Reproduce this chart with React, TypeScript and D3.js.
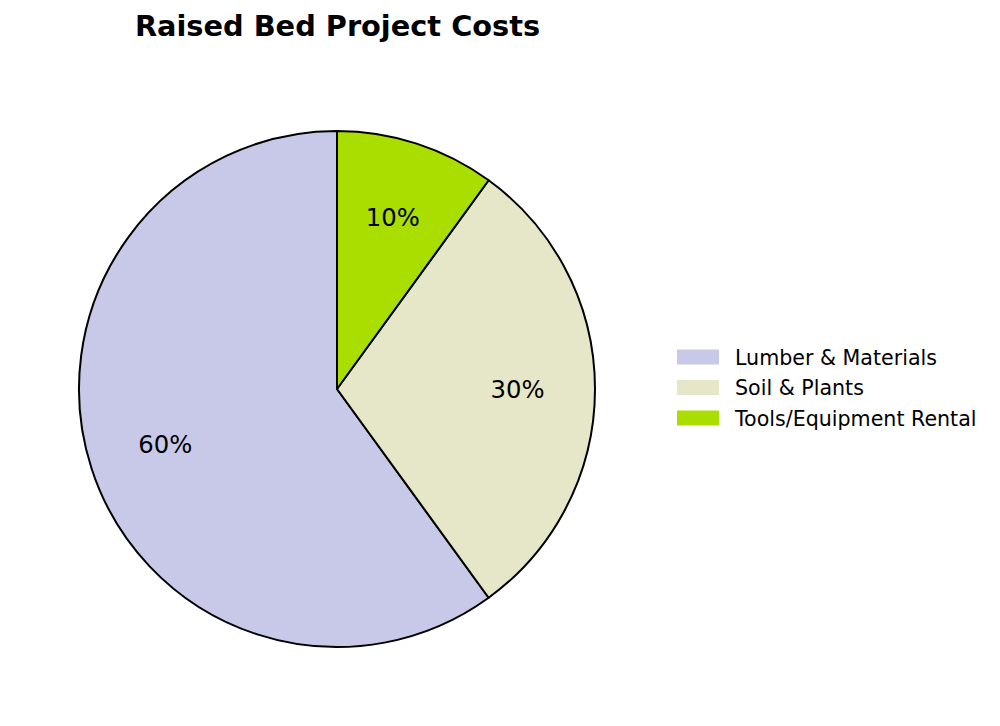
import { useEffect, useRef } from "react";
import * as d3 from "d3";

// Raised bed project cost split
const categories = ["Lumber & Materials", "Soil & Plants", "Tools/Equipment Rental"];
const shares = [60, 30, 10];
const sliceColors = ["#c8c8e8", "#e6e6c8", "#aade00"];

const W = 1000;
const H = 726;

export default function App() {
  const svgRef = useRef<SVGSVGElement>(null);

  useEffect(() => {
    if (!svgRef.current) return;
    const svg = d3.select(svgRef.current);
    svg.selectAll("*").remove();

    const cx = 337;
    const cy = 389;
    const radius = 258;

    const data = categories.map((name, i) => ({ name, value: shares[i], color: sliceColors[i] }));
    type Datum = (typeof data)[number];

    // matplotlib style: start at 12 o'clock, go counter-clockwise
    const pie = d3.pie<Datum>()
      .value(d => d.value)
      .sort(null)
      .startAngle(0)
      .endAngle(-2 * Math.PI);

    const arc = d3.arc<d3.PieArcDatum<Datum>>()
      .innerRadius(0)
      .outerRadius(radius);

    const labelArc = d3.arc<d3.PieArcDatum<Datum>>()
      .innerRadius(radius * 0.7)
      .outerRadius(radius * 0.7);

    const g = svg.append("g").attr("transform", `translate(${cx}, ${cy})`);
    const pieData = pie(data);

    g.selectAll("path")
      .data(pieData)
      .join("path")
      .attr("d", arc)
      .attr("fill", d => d.data.color)
      .attr("stroke", "#000")
      .attr("stroke-width", 2)
      .attr("stroke-linejoin", "round");

    const total = d3.sum(shares);
    g.selectAll("text.pct")
      .data(pieData)
      .join("text")
      .attr("class", "pct")
      .attr("transform", d => `translate(${labelArc.centroid(d)})`)
      .attr("text-anchor", "middle")
      .attr("dominant-baseline", "central")
      .style("font-size", "24.3px")
      .style("fill", "#000")
      .text(d => `${Math.round((d.data.value / total) * 100)}%`);

    // title
    svg.append("text")
      .attr("x", cx + 0.5)
      .attr("y", 36)
      .attr("text-anchor", "middle")
      .style("font-size", "28.8px")
      .style("font-weight", "bold")
      .text("Raised Bed Project Costs");

    // legend
    const legend = svg.append("g").attr("transform", "translate(677, 357.5)");
    const rows = legend.selectAll("g")
      .data(data)
      .join("g")
      .attr("transform", (_, i) => `translate(0, ${i * 30.5})`);

    rows.append("rect")
      .attr("x", 0)
      .attr("y", -8)
      .attr("width", 42)
      .attr("height", 15)
      .attr("fill", d => d.color);

    rows.append("text")
      .attr("x", 58)
      .attr("y", 0)
      .attr("dominant-baseline", "central")
      .style("font-size", "20.6px")
      .text(d => d.name);
  }, []);

  return (
    <svg
      ref={svgRef}
      width={W}
      height={H}
      viewBox={`0 0 ${W} ${H}`}
      style={{
        position: "absolute",
        left: 0,
        top: 0,
        background: "#fff",
        fontFamily: "'DejaVu Sans', sans-serif",
      }}
    />
  );
}
